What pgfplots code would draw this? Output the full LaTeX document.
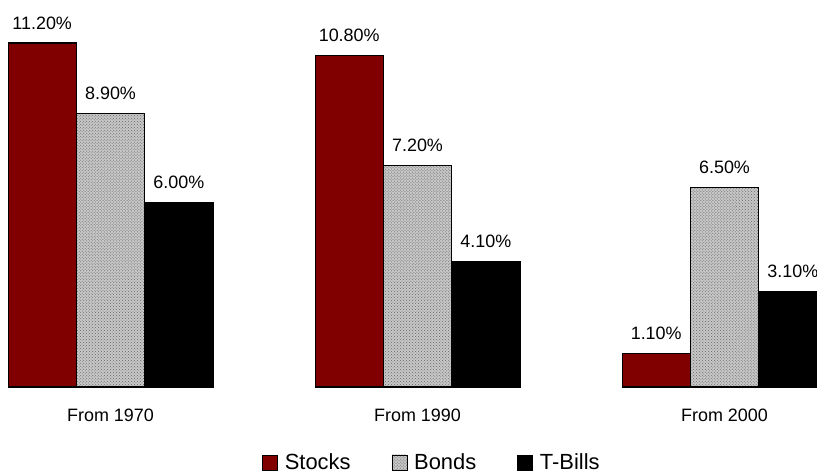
\documentclass[border=0pt]{standalone}
\usepackage{fontspec}
\setmainfont{Liberation Sans}
\usepackage{pgfplots}
\pgfplotsset{compat=1.18}
\usetikzlibrary{patterns}
\definecolor{stockred}{HTML}{800000}
\begin{document}
\begin{tikzpicture}
\begin{axis}[
  at={(0,0)}, anchor=south west,
  scale only axis, width=817bp, height=474bp,
  xmin=0, xmax=817, ymin=-2.833, ymax=12.602,
  hide axis, clip=true,
  /pgf/number format/assume math mode=true,
  nodes near coords={\pgfmathprintnumber[fixed,fixed zerofill,precision=2]{\pgfplotspointmeta}\%},
  every node near coord/.append style={font=\fontsize{18}{21}\selectfont, anchor=base, yshift=14bp, inner sep=0pt, text=black},
  legend columns=3,
  legend style={at={(axis cs:262,-2.44)}, anchor=west, draw=none, fill=none,
    font=\fontsize{22}{26}\selectfont, inner sep=0pt, nodes={inner sep=0pt},
    /tikz/every odd column/.append style={column sep=7bp},
    /tikz/every even column/.append style={column sep=41bp}},
  legend image code/.code={\draw[#1, line width=0.6bp] (0bp,-8bp) rectangle (15bp,7bp);},
]
\addplot[ybar, bar width=68.3, bar shift=0pt, draw=black, line width=1.1bp, fill=stockred]
  coordinates {(42.2,11.2) (349.2,10.8) (656.2,1.1)};
\addlegendentry{Stocks}
\addplot[ybar, bar width=68.3, bar shift=0pt, draw=black, line width=1.1bp, fill=black!22,
  postaction={pattern=crosshatch dots, pattern color=black!60}]
  coordinates {(110.5,8.9) (417.5,7.2) (724.5,6.5)};
\addlegendentry{Bonds}
\addplot[ybar, bar width=68.3, bar shift=0pt, draw=black, line width=1.1bp, fill=black]
  coordinates {(178.8,6.0) (485.8,4.1) (792.8,3.1)};
\addlegendentry{T-Bills}
\node[font=\fontsize{18}{21}\selectfont] at (axis cs:110.5,-0.912) {From 1970};
\node[font=\fontsize{18}{21}\selectfont] at (axis cs:417.5,-0.912) {From 1990};
\node[font=\fontsize{18}{21}\selectfont] at (axis cs:724.5,-0.912) {From 2000};
\end{axis}
\pgfresetboundingbox
\path[use as bounding box] (0,0) rectangle (817bp,474bp);
\end{tikzpicture}
\end{document}
